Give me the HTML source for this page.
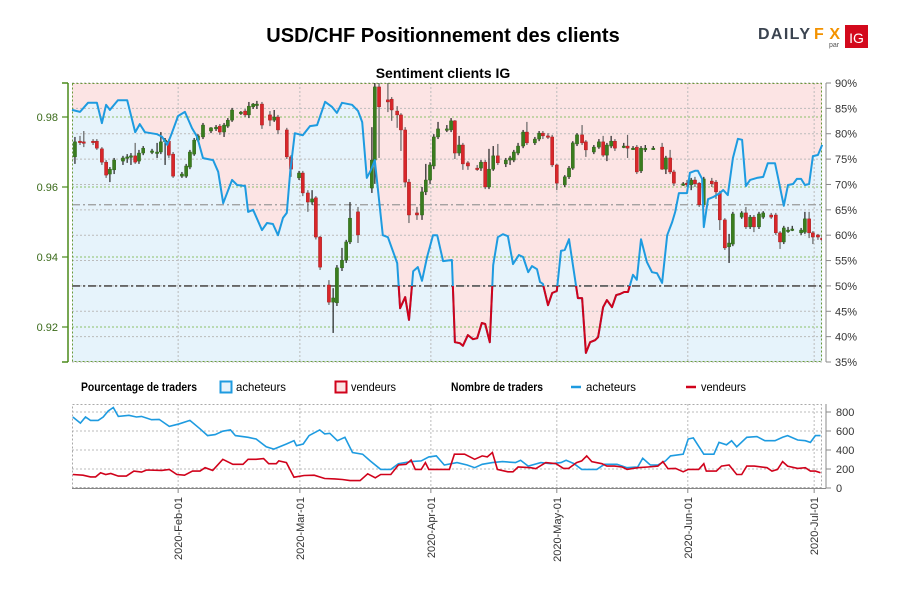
<!DOCTYPE html>
<html><head><meta charset="utf-8"><style>
body{margin:0;background:#fff;}
svg{display:block;font-family:"Liberation Sans",sans-serif;}
</style></head><body>
<svg id="chart" width="900" height="600" viewBox="0 0 900 600">
<text x="443" y="42" text-anchor="middle" font-size="20" font-weight="bold" fill="#000">USD/CHF Positionnement des clients</text>
<g>
<text x="758" y="39" font-size="16" font-weight="bold" fill="#3b4450" textLength="52" lengthAdjust="spacing">DAILY</text>
<text x="814" y="39" font-size="16" font-weight="bold" fill="#f39200" textLength="26" lengthAdjust="spacing">FX</text>
<text x="829" y="47" font-size="7" fill="#555">par</text>
<rect x="845" y="25" width="23" height="23" fill="#d3091c"/>
<text x="856.5" y="43" text-anchor="middle" font-size="14" fill="#fff">IG</text>
</g>
<text x="443" y="78" text-anchor="middle" font-size="14" font-weight="bold">Sentiment clients IG</text>
<defs>
<clipPath id="plotClip"><rect x="72" y="83" width="750" height="279"/></clipPath>
<clipPath id="redClip"><rect x="72" y="286" width="750" height="80"/></clipPath>
<clipPath id="botClip"><rect x="72" y="404" width="750" height="84"/></clipPath>
</defs>
<g id="main"></g>
<g id="legend">
<text x="81" y="391" font-size="12" font-weight="bold" textLength="116" lengthAdjust="spacingAndGlyphs">Pourcentage de traders</text>
<rect x="220.5" y="381.5" width="11" height="11" fill="#e6f3fb" stroke="#1e9be0" stroke-width="2"/>
<text x="236" y="391" font-size="12" textLength="50" lengthAdjust="spacingAndGlyphs">acheteurs</text>
<rect x="335.5" y="381.5" width="11" height="11" fill="#fce4e4" stroke="#d0021b" stroke-width="2"/>
<text x="351" y="391" font-size="12" textLength="45" lengthAdjust="spacingAndGlyphs">vendeurs</text>
<text x="451" y="391" font-size="12" font-weight="bold" textLength="92" lengthAdjust="spacingAndGlyphs">Nombre de traders</text>
<line x1="571" y1="387" x2="581" y2="387" stroke="#1e9be0" stroke-width="2.5"/>
<text x="586" y="391" font-size="12" textLength="50" lengthAdjust="spacingAndGlyphs">acheteurs</text>
<line x1="686" y1="387" x2="696" y2="387" stroke="#d0021b" stroke-width="2.5"/>
<text x="701" y="391" font-size="12" textLength="45" lengthAdjust="spacingAndGlyphs">vendeurs</text>
</g>
<g id="bottom"></g>
</svg>
<script>
// ---- data ----
const monthDays = [25.2, 54.1, 85.2, 115.1, 146.2, 176.2];
const monthLabels = ["2020-Feb-01","2020-Mar-01","2020-Apr-01","2020-May-01","2020-Jun-01","2020-Jul-01"];
const priceTicks = [0.98, 0.96, 0.94, 0.92];
const pctTicks = [90,85,80,75,70,65,60,55,50,45,40,35];
const countTicks = [0,200,400,600,800];
const avgSentiment = 66;
const sentDays = [0,1.9,3.8,5.9,7.1,8.1,9.0,10.9,13.1,15.0,16.1,17.3,20.2,21.4,22.6,23.7,25.2,26.8,28.5,29.7,31.1,33.5,34.7,35.9,38.0,39.2,41.1,41.8,43.0,45.1,46.3,47.7,48.9,50.1,51.0,51.8,52.9,54.8,56.5,58.2,60.1,61.7,62.9,64.1,66.5,67.9,68.9,70.0,71.0,71.9,73.8,75.0,77.2,77.9,79.1,80.0,81.0,82.1,83.1,84.3,85.7,86.7,88.1,90.2,90.9,92.1,92.8,94.0,95.2,96.2,97.3,98.1,99.2,100.0,101.1,102.3,103.5,104.7,106.1,107.1,108.3,109.2,110.4,111.1,111.8,113.0,114.0,115.1,116.1,117.0,118.0,120.1,121.1,122.0,123.0,124.2,124.9,126.1,127.0,128.2,129.2,130.1,131.1,132.0,133.2,134.1,135.1,136.5,137.7,138.9,140.1,141.3,142.5,143.2,144.1,146.0,146.7,147.9,148.6,149.6,150.0,151.0,152.2,153.8,154.6,155.7,156.9,158.1,159.1,160.0,161.0,162.6,164.1,165.2,166.9,167.6,169.0,170.0,171.2,172.1,173.1,174.0,175.0,175.9,177.1,178.1];
const sentLong = [84.7,84.3,86.1,86.1,82.1,85.7,84.7,86.6,86.6,80.3,81.9,80.3,79.9,79.4,77.8,80.1,83.5,84.3,81.1,79.4,75.2,74.8,72.5,66.3,70.9,69.9,69.7,64.6,65.0,61.0,62.4,62.2,60.0,63.4,64.4,72.5,80.1,79.7,81.5,81.7,86.3,85.3,84.1,86.1,85.7,84.5,82.3,71.3,72.9,74.8,60.0,59.6,54.5,45.6,47.8,43.3,52.9,53.7,51.0,55.7,60.0,60.0,54.9,55.1,38.9,38.7,38.2,40.3,39.5,39.7,42.7,42.5,38.9,54.1,59.6,60.2,59.8,54.3,56.1,55.7,52.7,53.9,53.3,50.8,50.4,46.2,48.6,49.0,56.9,57.1,59.2,47.6,47.6,36.8,38.9,39.3,39.9,45.8,47.2,45.8,48.2,48.4,48.8,48.8,52.2,51.2,59.2,54.7,52.7,52.5,50.6,60.0,62.6,64.6,68.3,68.3,72.3,72.7,72.7,71.1,61.6,67.1,67.5,68.3,68.9,67.9,75.2,79.0,78.8,69.7,70.9,71.3,71.5,74.2,74.2,71.5,65.8,69.9,70.1,71.1,71.1,69.9,70.1,75.6,75.8,77.8];
const candleDays = [0.7,1.9,2.8,5.0,5.9,7.1,8.1,9.0,10.0,12.1,13.1,14.0,15.0,15.9,16.9,19.0,20.2,21.1,22.1,23.0,24.0,26.1,27.1,28.0,29.0,29.9,31.1,33.0,34.2,35.1,36.1,37.0,38.0,40.1,41.1,42.0,43.0,43.9,45.1,47.0,48.0,48.9,51.0,52.0,53.9,54.8,56.0,57.0,57.9,58.9,61.0,62.0,62.9,64.1,65.1,66.0,67.9,71.2,71.9,72.9,75.0,75.9,77.2,78.1,79.1,80.0,81.9,83.1,84.0,85.0,85.9,86.9,89.0,90.0,90.9,91.9,92.8,94.0,96.2,97.1,98.1,99.0,100.0,101.1,103.0,104.0,104.9,105.9,107.1,108.0,109.9,110.9,111.8,113.0,114.0,115.1,117.0,118.0,118.9,119.9,121.1,122.0,123.9,125.1,126.1,127.0,128.0,128.9,131.0,131.9,133.2,134.1,135.1,136.1,138.0,140.1,141.0,142.0,142.9,145.1,146.0,147.0,147.9,148.9,150.0,151.9,152.9,153.8,155.0,156.0,156.9,159.0,160.0,161.0,161.9,163.1,164.1,166.0,167.1,168.1,169.0,170.0,171.0,173.1,174.0,175.0,175.9,177.1,178.1];
const candleOpen = [.9686,.9731,.9729,.9731,.9731,.9709,.9671,.9637,.9649,.9674,.9683,.9686,.9689,.9674,.9697,.9700,.9700,.9700,.9729,.9731,.9694,.9631,.9631,.9657,.9694,.9734,.9743,.9760,.9766,.9774,.9757,.9774,.9791,.9811,.9817,.9806,.9829,.9837,.9837,.9806,.9791,.9800,.9763,.9686,.9626,.9640,.9583,.9557,.9569,.9457,.9320,.9271,.9269,.9369,.9391,.9443,.9529,.9597,.9677,.9886,.9849,.9851,.9817,.9806,.9763,.9614,.9526,.9520,.9586,.9620,.9660,.9743,.9763,.9763,.9789,.9697,.9720,.9669,.9654,.9654,.9671,.9600,.9651,.9689,.9666,.9677,.9677,.9697,.9717,.9757,.9726,.9737,.9754,.9746,.9743,.9663,.9606,.9629,.9654,.9723,.9749,.9729,.9700,.9714,.9729,.9691,.9717,.9731,.9717,.9717,.9711,.9714,.9646,.9706,.9711,.9714,.9651,.9683,.9643,.9609,.9611,.9606,.9620,.9611,.9549,.9617,.9614,.9583,.9506,.9429,.9437,.9514,.9526,.9486,.9514,.9486,.9514,.9520,.9520,.9469,.9443,.9477,.9480,.9469,.9471,.9509,.9469,.9463,.9454];
const candleClose = [.9729,.9729,.9726,.9729,.9711,.9671,.9634,.9651,.9677,.9683,.9686,.9689,.9671,.9697,.9711,.9703,.9700,.9729,.9734,.9691,.9631,.9637,.9660,.9700,.9734,.9746,.9777,.9769,.9771,.9757,.9777,.9791,.9820,.9814,.9806,.9831,.9837,.9837,.9777,.9791,.9800,.9763,.9686,.9651,.9640,.9583,.9557,.9566,.9457,.9371,.9271,.9283,.9369,.9391,.9443,.9511,.9463,.9677,.9886,.9829,.9843,.9820,.9806,.9763,.9614,.9520,.9520,.9586,.9620,.9663,.9743,.9766,.9766,.9789,.9697,.9720,.9666,.9660,.9651,.9671,.9600,.9651,.9689,.9669,.9677,.9683,.9700,.9717,.9757,.9726,.9737,.9754,.9746,.9743,.9663,.9611,.9629,.9654,.9726,.9749,.9726,.9706,.9714,.9729,.9691,.9720,.9731,.9711,.9717,.9711,.9711,.9643,.9711,.9711,.9711,.9651,.9683,.9643,.9611,.9609,.9606,.9620,.9609,.9549,.9623,.9609,.9586,.9506,.9426,.9440,.9523,.9526,.9486,.9514,.9486,.9523,.9526,.9514,.9469,.9443,.9483,.9477,.9480,.9477,.9509,.9469,.9457,.9457,.9449];
const candleHigh = [.9743,.9746,.9760,.9737,.9737,.9714,.9677,.9657,.9683,.9689,.9694,.9697,.9726,.9706,.9717,.9709,.9726,.9757,.9740,.9737,.9700,.9643,.9666,.9706,.9740,.9751,.9783,.9771,.9777,.9780,.9783,.9797,.9826,.9817,.9823,.9843,.9840,.9846,.9843,.9817,.9820,.9806,.9769,.9691,.9646,.9646,.9591,.9591,.9574,.9460,.9334,.9311,.9377,.9426,.9449,.9557,.9543,.9771,.9897,.9897,.9897,.9857,.9831,.9811,.9771,.9623,.9543,.9600,.9666,.9671,.9751,.9786,.9777,.9797,.9791,.9746,.9726,.9674,.9663,.9677,.9677,.9709,.9717,.9723,.9683,.9689,.9706,.9726,.9763,.9786,.9743,.9760,.9760,.9754,.9749,.9666,.9634,.9660,.9731,.9754,.9777,.9734,.9720,.9737,.9746,.9726,.9746,.9737,.9726,.9749,.9717,.9720,.9717,.9720,.9717,.9726,.9689,.9706,.9649,.9614,.9620,.9626,.9629,.9614,.9629,.9626,.9620,.9589,.9511,.9466,.9529,.9531,.9543,.9520,.9520,.9529,.9531,.9526,.9526,.9474,.9489,.9486,.9489,.9483,.9529,.9529,.9474,.9466,.9460];
const candleLow = [.9666,.9720,.9714,.9720,.9706,.9663,.9626,.9614,.9637,.9663,.9669,.9663,.9666,.9666,.9691,.9694,.9683,.9694,.9663,.9683,.9626,.9626,.9626,.9651,.9689,.9729,.9737,.9754,.9760,.9749,.9743,.9769,.9786,.9806,.9800,.9797,.9823,.9823,.9766,.9774,.9786,.9751,.9680,.9629,.9620,.9574,.9529,.9549,.9450,.9363,.9263,.9183,.9260,.9360,.9383,.9437,.9440,.9583,.9609,.9683,.9814,.9789,.9769,.9703,.9600,.9497,.9506,.9506,.9577,.9609,.9651,.9737,.9757,.9757,.9680,.9689,.9649,.9649,.9646,.9646,.9594,.9594,.9646,.9663,.9657,.9663,.9671,.9691,.9711,.9720,.9720,.9731,.9737,.9737,.9657,.9591,.9600,.9623,.9649,.9717,.9720,.9686,.9694,.9709,.9686,.9674,.9711,.9703,.9711,.9683,.9706,.9637,.9640,.9700,.9706,.9649,.9637,.9637,.9603,.9603,.9600,.9591,.9600,.9543,.9543,.9600,.9566,.9477,.9420,.9383,.9431,.9509,.9480,.9480,.9471,.9480,.9509,.9509,.9463,.9423,.9437,.9469,.9474,.9463,.9466,.9454,.9437,.9449,.9443];
const buyDays = [0.2,2.0,3.2,4.4,6.2,7.4,8.6,9.8,11.0,13.5,15.3,16.5,18.9,20.7,23.1,25.5,28.0,30.4,32.2,34.0,35.8,37.6,38.8,41.8,43.7,46.1,47.9,50.9,52.7,53.3,54.9,56.3,58.8,60.0,61.2,63.0,64.8,66.6,69.0,70.8,73.3,75.7,77.5,80.5,82.9,84.7,86.5,88.4,91.4,93.8,95.6,97.4,99.8,102.2,105.3,106.5,108.3,111.3,113.7,116.1,117.3,119.2,121.0,124.6,126.4,129.4,131.8,134.3,135.5,137.3,139.1,140.9,142.1,145.1,146.3,147.5,150.0,152.4,153.6,155.4,156.6,157.8,160.2,162.6,164.5,166.9,168.7,169.9,172.3,174.1,175.3,176.5,177.7];
const buyCount = [747,683,747,712,712,747,811,847,754,765,747,754,719,722,648,676,712,623,552,562,598,612,552,534,516,434,409,463,498,445,463,552,612,569,576,498,534,374,356,285,196,196,256,278,285,327,338,242,267,242,214,249,267,278,267,292,231,267,256,267,292,256,196,196,249,249,214,221,313,242,242,285,338,356,516,527,356,356,480,455,498,434,534,541,498,498,534,552,505,498,480,552,552];
const sellDays = [0.2,2.6,4.4,5.6,6.8,8.0,9.2,11.0,12.9,14.7,16.5,17.7,21.3,23.1,24.9,26.7,28.6,30.4,31.6,33.4,35.8,38.2,40.6,41.8,43.7,45.5,46.7,48.5,49.1,50.9,52.7,55.1,57.5,60.0,62.4,64.2,66.0,68.4,70.2,72.0,73.3,75.7,77.5,79.3,80.5,81.5,82.9,83.9,84.7,87.1,89.6,90.8,93.2,95.6,97.4,98.6,99.8,101.0,103.5,104.7,105.9,108.9,110.1,112.5,114.9,116.7,117.9,119.8,121.0,122.2,123.4,125.8,127.0,128.8,130.6,131.8,134.3,136.7,139.1,140.3,141.5,143.3,145.1,146.3,148.8,150.0,150.6,153.0,154.2,156.0,157.8,159.0,160.2,162.0,165.0,166.2,167.5,168.7,169.9,172.3,174.1,175.3,176.5,177.7];
const sellCount = [142,135,117,117,160,142,153,125,125,178,167,189,185,196,142,135,178,178,214,185,302,249,249,302,302,310,256,256,285,267,114,132,135,100,96,89,78,78,149,107,142,142,242,249,295,196,196,267,196,196,196,356,356,302,338,327,374,196,171,171,221,214,203,267,256,206,206,267,285,338,278,256,231,231,221,196,214,221,231,278,203,206,171,196,196,256,178,178,231,242,142,142,231,231,214,178,196,278,231,206,214,178,178,160];

// ---- scales ----
const X0 = 72, DAYPX = 4.212;
const xOf = d => X0 + d * DAYPX;
const yP = p => 117 + (0.98 - p) * 3500;
const yS = s => 83 + (90 - s) * 5.073;
const yC = v => 488 - v * 0.095;
const NS = "http://www.w3.org/2000/svg";
function mk(tag, attrs, parent) {
  const e = document.createElementNS(NS, tag);
  for (const k in attrs) e.setAttribute(k, attrs[k]);
  parent.appendChild(e);
  return e;
}
const main = document.getElementById('main');
const bottom = document.getElementById('bottom');

let linePts = sentDays.map((d, i) => xOf(d).toFixed(1) + ',' + yS(sentLong[i]).toFixed(1));
const xL = xOf(sentDays[0]), xR = xOf(sentDays[sentDays.length - 1]);
let bg = mk('rect', {x: 72, y: 83, width: 750, height: 279, fill: '#fce4e4'}, main);


let lowArea = mk('polygon', {points: linePts.join(' ') + ' ' + xR + ',362 ' + xL + ',362', fill: '#e6f3fb'}, main);



pctTicks.forEach(s => {
  let g = mk('line', {x1: 72, x2: 822, y1: yS(s), y2: yS(s), stroke: '#bbb', 'stroke-dasharray': '2,2', 'stroke-width': 1}, main);
  
  
});
priceTicks.forEach(p => {
  let g = mk('line', {x1: 72, x2: 822, y1: yP(p), y2: yP(p), stroke: '#8cc06a', 'stroke-dasharray': '2,2', 'stroke-width': 1}, main);
  
  
});
monthDays.forEach(d => {
  let g = mk('line', {x1: xOf(d), x2: xOf(d), y1: 83, y2: 362, stroke: '#bbb', 'stroke-dasharray': '2,2'}, main);
  
  
});
let avgL = mk('line', {x1: 72, x2: 822, y1: yS(avgSentiment), y2: yS(avgSentiment), stroke: '#999', 'stroke-width': 1.3, 'stroke-dasharray': '8,3,2,3'}, main);


let half = mk('line', {x1: 72, x2: 822, y1: yS(50), y2: yS(50), stroke: '#666', 'stroke-width': 1.8, 'stroke-dasharray': '8,3,2,3'}, main);



let fr = mk('rect', {x: 72.5, y: 83.5, width: 749, height: 278, fill: 'none', stroke: '#6a9a3a', 'stroke-dasharray': '2,2'}, main);



const cg = mk('g', {'clip-path': 'url(#plotClip)'}, main);


candleDays.forEach((d, i) => {
  const x = xOf(d), o = candleOpen[i], c = candleClose[i];
  const up = c >= o;
  const w = mk('line', {x1: x, x2: x, y1: yP(candleHigh[i]), y2: yP(candleLow[i]), stroke: up ? '#222' : '#666', 'stroke-width': 1.2}, cg);
  
  
  const top = yP(Math.max(o, c)), h = Math.max(1.5, Math.abs(yP(o) - yP(c)));
  const b = mk('rect', {x: x - 1.6, y: top, width: 3.2, height: h, fill: up ? '#3a7d1e' : '#d9262a', stroke: up ? '#2a5d16' : '#9a1a1a', 'stroke-width': 0.4}, cg);
  
  
});

let sl = mk('polyline', {points: linePts.join(' '), fill: 'none', stroke: '#1e9be0', 'stroke-width': 2, 'stroke-linejoin': 'round'}, main);


let slr = mk('polyline', {points: linePts.join(' '), fill: 'none', stroke: '#d0021b', 'stroke-width': 2, 'stroke-linejoin': 'round', 'clip-path': 'url(#redClip)'}, main);



let la = mk('line', {x1: 68, x2: 68, y1: 83, y2: 362, stroke: '#4a8a1a', 'stroke-width': 1.5}, main);


[83, 362].forEach(y => { let t = mk('line', {x1: 62, x2: 68, y1: y, y2: y, stroke: '#4a8a1a', 'stroke-width': 1.5}, main);
  
   });
priceTicks.forEach(p => {
  let t = mk('line', {x1: 62, x2: 68, y1: yP(p), y2: yP(p), stroke: '#4a8a1a', 'stroke-width': 1.2}, main);
  
  
  let l = mk('text', {x: 58, y: yP(p) + 4, 'text-anchor': 'end', 'font-size': 11, fill: '#3a6a1a'}, main);
  l.textContent = p.toFixed(2);
  
  
});
let ra = mk('line', {x1: 826, x2: 826, y1: 83, y2: 362, stroke: '#888', 'stroke-width': 1}, main);


pctTicks.forEach(s => {
  let t = mk('line', {x1: 826, x2: 831, y1: yS(s), y2: yS(s), stroke: '#888'}, main);
  
  
  let l = mk('text', {x: 835, y: yS(s) + 4, 'font-size': 11, fill: '#333'}, main);
  l.textContent = s + '%';
  
  
});

countTicks.forEach(v => {
  let g = mk('line', {x1: 72, x2: 822, y1: yC(v), y2: yC(v), stroke: '#bbb', 'stroke-dasharray': '2,2'}, bottom);
  
  
  let t = mk('line', {x1: 826, x2: 831, y1: yC(v), y2: yC(v), stroke: '#888'}, bottom);
  
  
  let l = mk('text', {x: 836, y: yC(v) + 4, 'font-size': 11, fill: '#333'}, bottom);
  l.textContent = v;
  
  
});
let bf = mk('rect', {x: 72.5, y: 404.5, width: 749, height: 83, fill: 'none', stroke: '#aaa', 'stroke-dasharray': '2,2'}, bottom);


let rb = mk('line', {x1: 826, x2: 826, y1: 404, y2: 488, stroke: '#888'}, bottom);


let xb = mk('line', {x1: 72, x2: 826, y1: 488.5, y2: 488.5, stroke: '#888'}, bottom);


monthDays.forEach((d, i) => {
  let g = mk('line', {x1: xOf(d), x2: xOf(d), y1: 404, y2: 488, stroke: '#bbb', 'stroke-dasharray': '2,2'}, bottom);
  
  
  let t = mk('line', {x1: xOf(d), x2: xOf(d), y1: 488, y2: 493, stroke: '#888'}, bottom);
  
  
  let l = mk('text', {x: 0, y: 0, 'font-size': 11, fill: '#333', 'text-anchor': 'end', transform: 'translate(' + (xOf(d) + 4) + ',497) rotate(-90)'}, bottom);
  l.textContent = monthLabels[i];
  
  
});
let bl = mk('polyline', {points: buyDays.map((d, i) => xOf(d).toFixed(1) + ',' + yC(buyCount[i]).toFixed(1)).join(' '), fill: 'none', stroke: '#1e9be0', 'stroke-width': 1.6, 'clip-path': 'url(#botClip)'}, bottom);


let sl2 = mk('polyline', {points: sellDays.map((d, i) => xOf(d).toFixed(1) + ',' + yC(sellCount[i]).toFixed(1)).join(' '), fill: 'none', stroke: '#d0021b', 'stroke-width': 1.6, 'clip-path': 'url(#botClip)'}, bottom);


</script>
</body></html>
